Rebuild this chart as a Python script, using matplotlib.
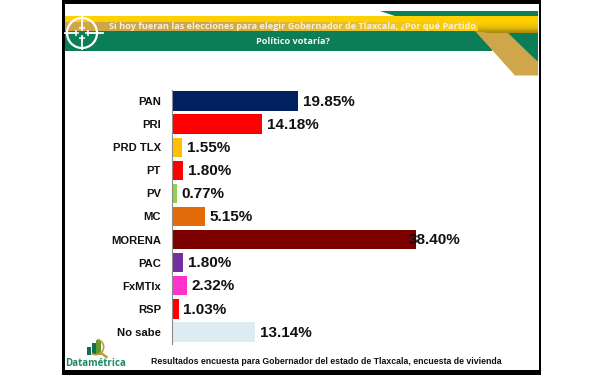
import matplotlib
matplotlib.use("Agg")
import matplotlib.pyplot as plt
from matplotlib.patches import Polygon, Rectangle, Circle, Wedge
from matplotlib.colors import LinearSegmentedColormap
import numpy as np

categories = ["PAN", "PRI", "PRD TLX", "PT", "PV", "MC", "MORENA", "PAC", "FxMTlx", "RSP", "No sabe"]
values = [19.85, 14.18, 1.55, 1.80, 0.77, 5.15, 38.40, 1.80, 2.32, 1.03, 13.14]
labels = ["19.85%", "14.18%", "1.55%", "1.80%", "0.77%", "5.15%", "38.40%", "1.80%", "2.32%", "1.03%", "13.14%"]
colors = ["#002060", "#FF0000", "#FFC000", "#FF0000", "#92D050", "#E36C0A", "#7B0000",
          "#7030A0", "#FF33CC", "#FF0000", "#DEEBF3"]
title_lines = ["Si hoy fueran las elecciones para elegir Gobernador de Tlaxcala, ¿Por qué Partido",
               "Político votaría?"]
footer = "Resultados encuesta para Gobernador del estado de Tlaxcala, encuesta de vivienda"
brand = "Datamétrica"

W, H = 600, 375
fig = plt.figure(figsize=(W / 100, H / 100), dpi=100, facecolor="white")

# page layer in pixel coordinates
bg = fig.add_axes([0, 0, 1, 1])
bg.axis("off")
bg.add_patch(Rectangle((62, 0), 479, 375, fc="black", ec="none", zorder=0))
bg.add_patch(Rectangle((65, 4), 474, 366, fc="white", ec="none", zorder=0))

GREEN, GOLD, YEL = "#0B7E58", "#CFA64A", "#FFD000"
bg.add_patch(Polygon([(380, 11), (538, 11), (538, 16), (395, 16)], fc=GREEN, ec="none", zorder=1))
bg.add_patch(Polygon([(65, 31), (492, 31), (492, 50.5), (65, 50.5)], fc=GREEN, ec="none", zorder=1))
bg.add_patch(Polygon([(500, 31), (538, 31), (538, 62)], fc=GREEN, ec="none", zorder=1))
bg.add_patch(Rectangle((65, 16), 473, 6, fc=YEL, ec="none", zorder=2))

band = LinearSegmentedColormap.from_list("band", [GOLD, GOLD, "#E6BE2A", YEL])
bg.imshow(np.linspace(0, 1, 256).reshape(1, -1), cmap=band, extent=(65, 478, 31, 22),
          aspect="auto", zorder=2, interpolation="bilinear")
shade = LinearSegmentedColormap.from_list("shade", [YEL, YEL, "#E9BE08", "#A98510"])
bg.imshow(np.linspace(0, 1, 64).reshape(-1, 1), cmap=shade, extent=(478, 538, 33, 16),
          aspect="auto", zorder=2, interpolation="bilinear")
bg.add_patch(Polygon([(475, 31), (488, 33), (508, 33), (538, 62), (538, 75.5), (515, 75.5)],
                     fc=GOLD, ec="none", zorder=3))

# crosshair emblem
bg.add_patch(Circle((82, 33), 15, fc="none", ec="white", lw=1.6, zorder=4))
for xs, ys in [([65, 76], [33, 33]), ([88, 103], [33, 33]), ([82, 82], [15, 28]), ([82, 82], [37, 49])]:
    bg.plot(xs, ys, color="white", lw=1.3, zorder=4)
for px, py in [(76, 33), (88, 33), (82, 28), (82, 38)]:
    bg.plot(px, py, marker="+", ms=4, mew=1.1, color="white", zorder=4)

bf = ["Open Sans", "DejaVu Sans"]
bg.text(292.5, 26.5, title_lines[0], ha="center", va="center", color="#F6F0DC", fontsize=6.62,
        fontweight="bold", family=bf, zorder=5)
bg.text(293, 42, title_lines[1], ha="center", va="center", color="#F6F6F0", fontsize=6.62,
        fontweight="bold", family=bf, zorder=5)

# logo
for lx, lh, c in [(87, 8, "#0F6F52"), (91.7, 12, "#0F6F52"), (96.4, 15, "#5F9A35")]:
    bg.add_patch(Rectangle((lx, 355 - lh), 4.4, lh, fc=c, ec="none", zorder=4))
bg.add_patch(Wedge((96, 347), 8.5, -80, 125, width=1.7, fc="#C79A3A", ec="none", zorder=4))
bg.plot([101, 106.5], [353, 357], color="#C79A3A", lw=1.8, zorder=4)
bg.text(96, 364, brand, ha="center", va="center", color="#1B8A68", fontsize=7.05,
        fontweight="bold", family="Open Sans", zorder=5)
bg.text(326, 362, footer, ha="center", va="center", color="#111111", fontsize=6.3,
        fontweight="bold", family="Liberation Sans", zorder=5)
bg.set_xlim(0, W); bg.set_ylim(H, 0)

# chart
x0, px_per_unit = 172, 6.35
top, bottom = 89.5, 343.5
ax = fig.add_axes([x0 / W, 1 - bottom / H, 360 / W, (bottom - top) / H])
ax.patch.set_alpha(0)
y = np.arange(len(categories))
ax.barh(y, values, height=0.84, color=colors)
ax.set_xlim(0, 360 / px_per_unit)
ax.set_ylim(len(categories) - 0.5, -0.5)
ax.set_yticks(y, categories, family="Liberation Sans", fontweight="bold", fontsize=8.1, color="#111111")
ax.tick_params(axis="y", length=0, pad=8)
ax.xaxis.set_visible(False)
for s in ["top", "right", "bottom"]:
    ax.spines[s].set_visible(False)
ax.spines["left"].set_color("#8C8C8C")
ax.spines["left"].set_linewidth(0.8)
for yi, v, t, cat in zip(y, values, labels, categories):
    dx = -4.8 if cat == "MORENA" else 3.4
    txt = ax.annotate(t, (v, yi), xytext=(dx, -0.5), textcoords="offset points", va="center", ha="left",
                      family="Liberation Sans", fontweight="bold", fontsize=11, color="#111111",
                      annotation_clip=False)
    txt.set_zorder(6)

fig.savefig("out.png", dpi=100)
